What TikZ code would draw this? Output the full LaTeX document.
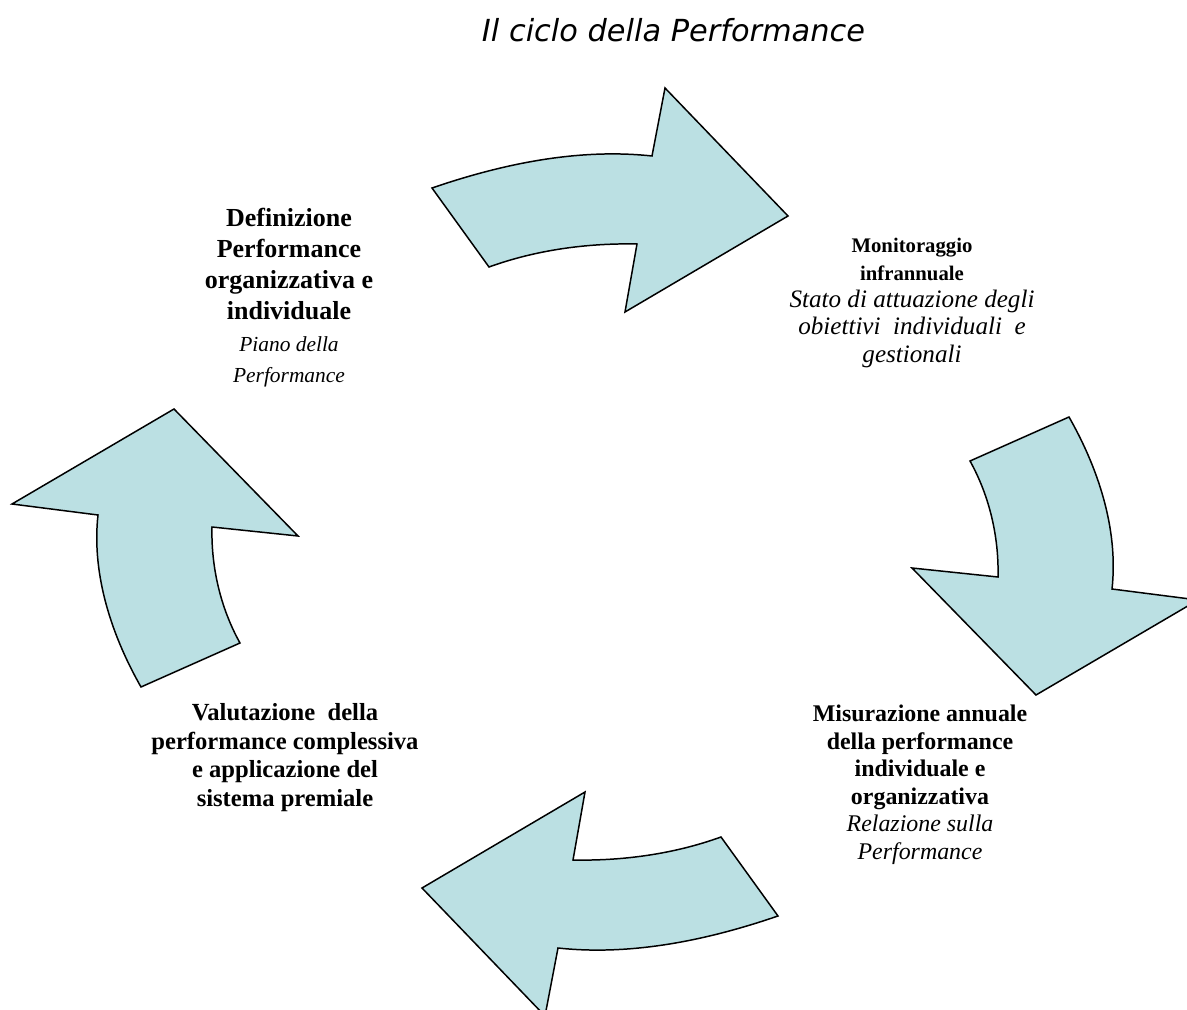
\documentclass[tikz,border=0pt]{standalone}
\usepackage{fontspec}
\setmainfont{Liberation Serif}
\newfontfamily\titlefont{DejaVu Sans}
\definecolor{cyclefill}{RGB}{187,224,227}
\newcommand{\doc}[1]{{\mdseries\itshape #1}}

\begin{document}
\begin{tikzpicture}[x=0.02cm, y=0.02cm,
cyclearrow/.style={fill=cyclefill, draw=black, line width=0.85pt},
every node/.style={inner sep=0pt, align=center}]
\tikzstyle{phase} = [anchor=north, font=\bfseries]

\useasboundingbox (0,0) rectangle (1187,1009);

\node[anchor=base, font=\titlefont\itshape\fontsize{17.3}{20}\selectfont](title) at (673.5,967){Il ciclo della Performance};

% the four curved arrows of the cycle, the lower two turned round the centre
\coordinate (c) at (605,457);
\foreach \a in {0,180}{
\draw[cyclearrow, rotate around={\a:(c)}] (432,821) .. controls (502,845) and (578,861) .. (652,853)
  -- (665,921) -- (788,793) -- (625,697) -- (637,765)
  .. controls (587,766) and (536,759) .. (489,742) -- cycle;
\draw[cyclearrow, rotate around={\a:(c)}] (141,322) -- (240,366)
  .. controls (220.5,401) and (211,442) .. (212,482)
  -- (298,473) -- (174,600) -- (12,505) -- (98,494)
  .. controls (92,440) and (108,380) .. (141,322) -- cycle;
}

\node[phase, font=\bfseries\fontsize{14.8}{17.7}\selectfont](plan) at (289,801){Definizione\\Performance\\organizzativa e\\individuale\\
  \doc{\fontsize{12.2}{17.7}\selectfont Piano della}\\\doc{\fontsize{12.2}{17.7}\selectfont Performance}};
\node[phase, font=\bfseries\fontsize{11.8}{15.6}\selectfont](monitor) at (912,771){Monitoraggio\\infrannuale\\
  \doc{\fontsize{14.3}{15.6}\selectfont Stato di attuazione degli}\\
  \doc{\fontsize{14.3}{15.6}\selectfont obiettivi\ \ individuali\ \ e}\\
  \doc{\fontsize{14.3}{15.6}\selectfont gestionali}};
\node[phase, font=\bfseries\fontsize{13.6}{15.65}\selectfont](measure) at (920,304){Misurazione annuale\\della performance\\individuale e\\organizzativa\\
  \doc{Relazione sulla}\\\doc{Performance}};
\node[phase, font=\bfseries\fontsize{14}{16.3}\selectfont](reward) at (285,306){Valutazione\ \ della\\performance complessiva\\e applicazione del\\sistema premiale};

\end{tikzpicture}
\end{document}
